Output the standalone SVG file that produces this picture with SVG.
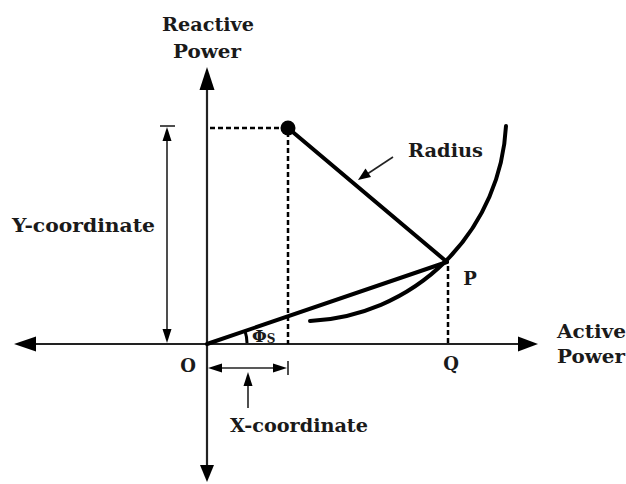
<svg xmlns="http://www.w3.org/2000/svg" width="626" height="484" viewBox="0 0 626 484">
<defs>
<style>
text{font-family:"DejaVu Serif","Liberation Serif",serif;font-weight:bold;fill:#1a1a1a;}
.lbl{font-size:18px;}
.axis{stroke:#222;stroke-width:2.2;fill:none;}
.thick{stroke:#000;stroke-width:4;fill:none;stroke-linecap:round;}
.dash{stroke:#000;stroke-width:2.5;stroke-dasharray:5,3;fill:none;}
.thin{stroke:#222;stroke-width:1.6;fill:none;}
.head{fill:#000;}
</style>
</defs>
<rect width="626" height="484" fill="#fff"/>
<g id="connectors">
  <line class="axis" x1="207" y1="85" x2="207" y2="470"/>
  <polygon class="head" points="207,67 199.5,90 214.5,90"/>
  <polygon class="head" points="207,482 200,465 214,465"/>
  <line class="axis" x1="30" y1="344" x2="525" y2="344"/>
  <polygon class="head" points="14,344 36,336.5 36,351.5"/>
  <polygon class="head" points="538,344 518,336.5 518,351.5"/>
  <line class="dash" x1="210" y1="128" x2="283" y2="128"/>
  <line class="dash" x1="288" y1="132" x2="288" y2="344"/>
  <line class="dash" x1="448" y1="266" x2="448" y2="344"/>
  <line class="thick" x1="288" y1="128" x2="447" y2="262"/>
  <line class="thick" x1="207" y1="344" x2="447" y2="262"/>
  <path class="thick" d="M310,321 A206,206 0 0 0 506,126"/>
  <path d="M247,343 A40,40 0 0 0 245,331" stroke="#000" stroke-width="3" fill="none"/>
  <line class="thin" x1="160" y1="126" x2="175" y2="126"/>
  <line class="thin" x1="167" y1="135" x2="167" y2="333"/>
  <polygon class="head" points="167,127 162.5,141 171.5,141"/>
  <polygon class="head" points="167,343 162.5,329 171.5,329"/>
  <line class="thin" x1="215" y1="368" x2="280" y2="368"/>
  <line class="thin" x1="288" y1="361" x2="288" y2="375"/>
  <polygon class="head" points="208,368 222,363.5 222,372.5"/>
  <polygon class="head" points="287,368 273,363.5 273,372.5"/>
  <line class="thin" x1="248" y1="383" x2="248" y2="408"/>
  <polygon class="head" points="248,372 243.5,386 252.5,386"/>
  <line class="thin" x1="393" y1="157" x2="368" y2="173.5"/>
  <polygon class="head" points="358,180 365.5,168.5 371,177"/>
</g>
<g id="center">
  <circle cx="288" cy="128" r="7.5" fill="#000"/>
</g>
<g id="labels">
  <text class="lbl" x="208" y="31" text-anchor="middle" textLength="92" lengthAdjust="spacingAndGlyphs">Reactive</text>
  <text class="lbl" x="207" y="58" text-anchor="middle" textLength="68" lengthAdjust="spacingAndGlyphs">Power</text>
  <text class="lbl" x="408" y="157" textLength="75" lengthAdjust="spacingAndGlyphs">Radius</text>
  <text class="lbl" x="12" y="232" textLength="143" lengthAdjust="spacingAndGlyphs">Y-coordinate</text>
  <text class="lbl" x="230" y="432" textLength="138" lengthAdjust="spacingAndGlyphs">X-coordinate</text>
  <text class="lbl" x="557" y="338" textLength="69" lengthAdjust="spacingAndGlyphs">Active</text>
  <text class="lbl" x="557" y="363" textLength="68" lengthAdjust="spacingAndGlyphs">Power</text>
  <text class="lbl" x="188" y="372" text-anchor="middle">O</text>
  <text class="lbl" x="451" y="370" text-anchor="middle">Q</text>
  <text class="lbl" x="470" y="285" text-anchor="middle">P</text>
  <text x="252" y="342" style="font-size:17px">Φ<tspan style="font-size:12px" dy="1">S</tspan></text>
</g>
</svg>
